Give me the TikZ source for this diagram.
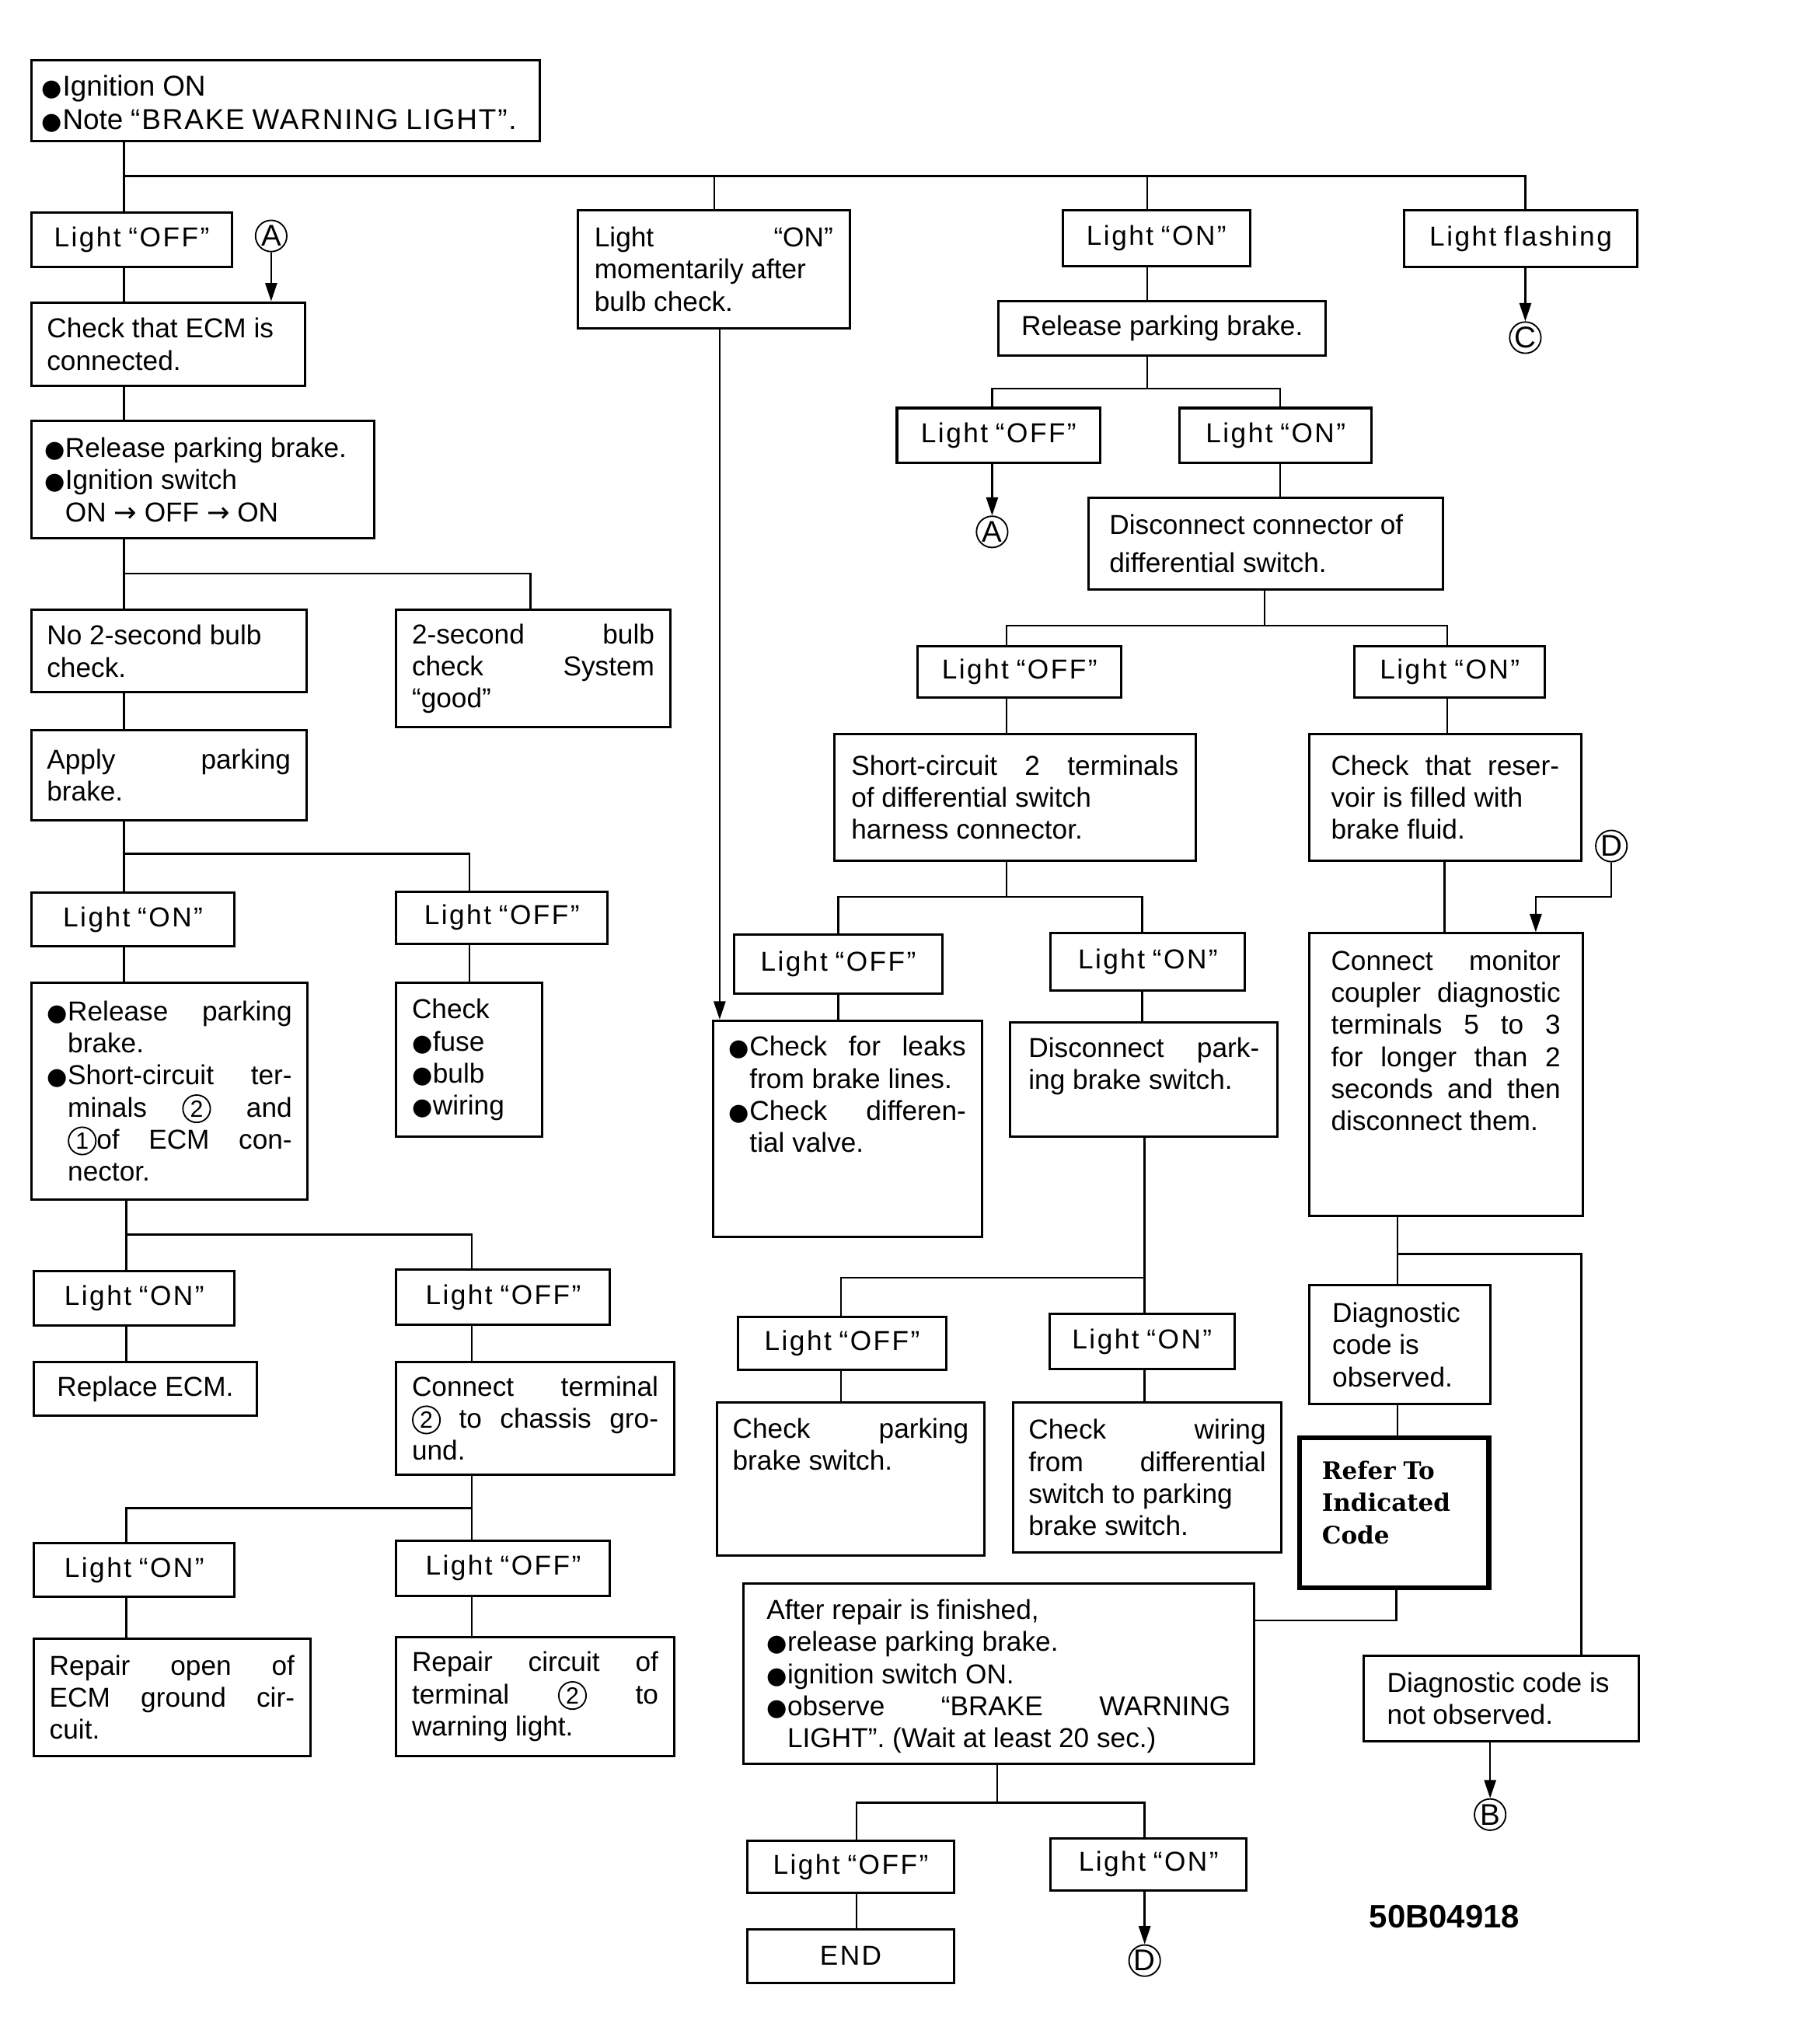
\documentclass[tikz,border=0pt]{standalone}
\usepackage{fontspec}
\setmainfont{Liberation Sans}
\newfontfamily\lsfont{Liberation Sans}[LetterSpace=7]
\newfontfamily\lsfontb{Liberation Sans}[LetterSpace=5]
\newfontfamily\djsfont{DejaVu Sans}
\newfontfamily\refserif{DejaVu Serif}
\usetikzlibrary{arrows.meta}
\newlength\bulw \setlength\bulw{16pt}
\newcommand\bul{\makebox[\bulw][l]{\fontsize{18}{18}\djsfont ●}}
\newcommand\bi{\par\hangindent\bulw\hangafter1\noindent\bul}
\newcommand\cnum[1]{\tikz[baseline=(cn.base)]\node[draw,circle,inner sep=0pt,minimum size=21pt,
  line width=1.1pt,font=\fontsize{18}{18}\selectfont] (cn) {#1};}
\newcommand\boxfont{\fontsize{21}{24.6}\selectfont\spaceskip=0.278em plus 10em minus 0.05em\relax
  \hyphenpenalty=10000\exhyphenpenalty=10000\relax}
\def\padx{12}\def\pady{6}
\newcommand\bx[8][]{%
  \pgfmathsetmacro\bxw{#5-#3}%
  \pgfmathsetmacro\bxh{#6-#4}%
  \pgfmathsetmacro\bxtw{\bxw-2*\padx}%
  \pgfmathsetmacro\bxth{\bxh-2*\pady}%
  \node[box,minimum width=\bxw pt,minimum height=\bxh pt,#1] (#2) at ({(#3+#5)/2},{(#4+#6)/2})
    {\parbox[c][\bxth pt][#7]{\bxtw pt}{#8}};}
\newcommand\lbox[6]{\bx{#1}{#2}{#3}{#4}{#5}{c}{\centering\lsfont #6}}
\begin{document}
\begin{tikzpicture}[x=1pt,y=-1pt,
  box/.style={draw,line width=1.8pt,inner xsep=\padx pt,inner ysep=\pady pt,
    font=\boxfont},
  ln/.style={line width=1.5pt},
  arr/.style={ln,-{Triangle[length=14pt,width=9pt]}},
  circ/.style={draw,circle,line width=1.1pt,inner sep=0pt,minimum size=24pt,
    font=\fontsize{23}{23}\selectfont}]
\fill[white] (0,0) rectangle (1389,1568);
\useasboundingbox (0,0) rectangle (1389,1568);

% ---------- left column ----------
{\def\padx{8}\bx[font=\boxfont\fontsize{22}{26}\selectfont]{top}{24}{46}{414}{108}{c}{\vspace*{5pt}\mbox{\bul Ignition ON}\\\mbox{\bul Note {\lsfontb “BRAKE WARNING LIGHT”.}}}}
\lbox{lOffA}{24}{163}{178}{205}{Light “OFF”}
\node[circ] (cA1) at (208,181) {A};
\bx{ecm}{24}{232}{234}{296}{c}{Check that ECM is\\connected.}
{\def\padx{10}\bx{rel1}{24}{323}{287}{413}{c}{\bul Release parking brake.\\\bul Ignition switch\\\hspace*{\bulw}ON {\djsfont →} OFF {\djsfont →} ON}}
\bx{no2}{24}{468}{235}{531}{c}{No 2-second bulb\\check.}
\bx{good}{304}{468}{514}{558}{c}{2-second bulb\linebreak check System\linebreak “good”}
\bx{apply}{24}{560}{235}{629}{c}{Apply parking\linebreak brake.}
\lbox{lOnD}{24}{685}{180}{726}{Light “ON”}
\lbox{lOffD}{304}{684}{466}{724}{Light “OFF”}
\bx{chk}{304}{754}{416}{872}{c}{Check\\\bul fuse\\\bul bulb\\\bul wiring}
\bx{short1}{24}{754}{236}{920}{c}{\bi Release parking\linebreak brake.\bi Short-circuit ter-\linebreak minals \cnum{2} and\linebreak \cnum{1}of ECM con-\linebreak nector.}
\lbox{lOnF}{26}{975}{180}{1017}{Light “ON”}
\lbox{lOffF}{304}{974}{468}{1016}{Light “OFF”}
\bx{repl}{26}{1045}{197}{1086}{c}{\centering Replace ECM.}
\bx{conn}{304}{1045}{517}{1131}{c}{Connect terminal\linebreak \cnum{2} to chassis gro-\linebreak und.}
\lbox{lOnH}{26}{1184}{180}{1225}{Light “ON”}
\lbox{lOffH}{304}{1182}{468}{1224}{Light “OFF”}
\bx{rep1}{26}{1257}{238}{1347}{c}{Repair open of\linebreak ECM ground cir-\linebreak cuit.}
\bx{rep2}{304}{1256}{517}{1347}{c}{Repair circuit of\linebreak terminal \cnum{2} to\linebreak warning light.}

% ---------- middle / right ----------
{\def\padx{13}\bx{mom}{443}{161}{652}{252}{c}{Light “ON”\linebreak momentarily after\\bulb check.}}
\lbox{lOnA}{815}{161}{959}{204}{Light “ON”}
\lbox{flash}{1077}{161}{1256}{205}{Light flashing}
\node[circ] (cC) at (1170,259) {C};
\bx{relB}{766}{231}{1017}{273}{c}{\centering Release parking brake.}
\lbox{lOffB}{688}{313}{844}{355}{Light “OFF”}
\lbox{lOnB}{905}{313}{1052}{355}{Light “ON”}
\node[circ] (cA2) at (761,408) {A};
{\def\padx{16}\bx{disc}{835}{382}{1107}{452}{c}{Disconnect connector of\\[5pt]differential switch.}}
\lbox{lOffC}{704}{496}{860}{535}{Light “OFF”}
\lbox{lOnC}{1039}{496}{1185}{535}{Light “ON”}
{\def\padx{13}\bx{sc}{640}{563}{917}{660}{c}{Short-circuit 2 terminals\linebreak of differential switch\\harness connector.}}
{\def\padx{17}\bx{res}{1004}{563}{1213}{660}{c}{Check that reser-\linebreak voir is filled with\\brake fluid.}}
\node[circ] (cD1) at (1236,649) {D};
\lbox{lOffE}{563}{717}{723}{762}{Light “OFF”}
\lbox{lOnE}{806}{716}{955}{760}{Light “ON”}
\bx{leaks}{547}{783}{753}{949}{t}{\vspace*{6pt}\bi Check for leaks\linebreak from brake lines.\bi Check differen-\linebreak tial valve.}
{\def\padx{14}\bx{dpark}{775}{784}{980}{872}{t}{\vspace*{6pt}Disconnect park-\linebreak ing brake switch.}}
{\def\padx{17}\bx{mon}{1004}{716}{1214}{933}{t}{\vspace*{7pt}Connect monitor\linebreak coupler diagnostic\linebreak terminals 5 to 3\linebreak for longer than 2\linebreak seconds and then\linebreak disconnect them.}}
\lbox{lOffG}{566}{1010}{726}{1051}{Light “OFF”}
\lbox{lOnG}{805}{1008}{947}{1050}{Light “ON”}
\bx{cpark}{550}{1076}{755}{1193}{t}{\vspace*{6pt}Check parking\linebreak brake switch.}
\bx{wir}{777}{1076}{983}{1191}{c}{Check wiring\linebreak from differential\linebreak switch to parking\\brake switch.}
{\def\padx{18}\bx{diag}{1004}{986}{1143}{1077}{c}{Diagnostic\\code is\\observed.}}
{\def\padx{17}\bx[line width=3.8pt]{refer}{997}{1103}{1142}{1218}{t}{\vspace*{12pt}\fontsize{18.5}{24.5}\refserif\bfseries Refer To\\Indicated\\Code}}
{\def\padx{18}\bx{after}{570}{1215}{962}{1353}{c}{\vspace*{4pt}After repair is finished,\bi release parking brake.\bi ignition switch ON.\bi observe “BRAKE WARNING\linebreak LIGHT”. (Wait at least 20 sec.)}}
{\def\padx{18}\bx{ndiag}{1046}{1270}{1257}{1336}{c}{Diagnostic code is\\not observed.}}
\node[circ] (cB) at (1143,1392) {B};
\lbox{lOffI}{573}{1412}{732}{1452}{Light “OFF”}
\lbox{lOnI}{806}{1410}{956}{1450}{Light “ON”}
\lbox{end}{573}{1480}{732}{1521}{END}
\node[circ] (cD2) at (878,1504) {D};
\node[font=\bfseries\fontsize{25}{25}\selectfont] (code) at (1108,1470) {50B04918};

% ---------- connectors ----------
\coordinate (b1a) at (95,135); \coordinate (b1b) at (548,135);
\coordinate (b1c) at (880,135); \coordinate (b1d) at (1170,135);
\draw[ln] (top.south -| b1a) -- (lOffA.north -| b1a);
\draw[ln] (b1a) -- (b1d) -- (flash.north -| b1d);
\draw[ln] (b1b) -- (mom.north -| b1b);
\draw[ln] (b1c) -- (lOnA.north -| b1c);
\draw[ln] (lOffA.south -| b1a) -- (ecm.north -| b1a);
\draw[arr] (cA1.south) -- (cA1 |- ecm.north);
\draw[ln] (ecm.south -| b1a) -- (rel1.north -| b1a);
\coordinate (b3a) at (95,440); \coordinate (b3b) at (407,440);
\draw[ln] (rel1.south -| b3a) -- (no2.north -| b3a);
\draw[ln] (b3a) -- (b3b) -- (good.north -| b3b);
\draw[ln] (no2.south -| b3a) -- (apply.north -| b3a);
\coordinate (b5a) at (95,655); \coordinate (b5b) at (360,655);
\draw[ln] (apply.south -| b5a) -- (lOnD.north -| b5a);
\draw[ln] (b5a) -- (b5b) -- (lOffD.north -| b5b);
\draw[ln] (lOnD.south -| b5a) -- (short1.north -| b5a);
\draw[ln] (lOffD.south -| b5b) -- (chk.north -| b5b);
\coordinate (b7a) at (97,947); \coordinate (b7b) at (362,947);
\draw[ln] (short1.south -| b7a) -- (lOnF.north -| b7a);
\draw[ln] (b7a) -- (b7b) -- (lOffF.north -| b7b);
\draw[ln] (lOnF.south -| b7a) -- (repl.north -| b7a);
\draw[ln] (lOffF.south -| b7b) -- (conn.north -| b7b);
\coordinate (b9a) at (97,1157); \coordinate (b9b) at (362,1157);
\draw[ln] (conn.south -| b9b) -- (lOffH.north -| b9b);
\draw[ln] (b9b) -- (b9a) -- (lOnH.north -| b9a);
\draw[ln] (lOnH.south -| b9a) -- (rep1.north -| b9a);
\draw[ln] (lOffH.south -| b9b) -- (rep2.north -| b9b);
% middle
\coordinate (xm) at (552,0);
\draw[arr] (mom.south -| xm) -- (leaks.north -| xm);
\draw[ln] (lOnA.south -| b1c) -- (relB.north -| b1c);
\draw[arr] (flash.south -| cC) -- (cC.north);
\coordinate (b11) at (880,298); \coordinate (b11a) at (761,298); \coordinate (b11b) at (982,298);
\draw[ln] (relB.south -| b11) -- (b11);
\draw[ln] (lOffB.north -| b11a) -- (b11a) -- (b11b) -- (lOnB.north -| b11b);
\draw[arr] (lOffB.south -| cA2) -- (cA2.north);
\draw[ln] (lOnB.south -| b11b) -- (disc.north -| b11b);
\coordinate (b12) at (970,480); \coordinate (b12a) at (772,480); \coordinate (b12b) at (1110,480);
\draw[ln] (disc.south -| b12) -- (b12);
\draw[ln] (lOffC.north -| b12a) -- (b12a) -- (b12b) -- (lOnC.north -| b12b);
\draw[ln] (lOffC.south -| b12a) -- (sc.north -| b12a);
\draw[ln] (lOnC.south -| b12b) -- (res.north -| b12b);
\coordinate (b13) at (772,688); \coordinate (b13a) at (643,688); \coordinate (b13b) at (876,688);
\draw[ln] (sc.south -| b13) -- (b13);
\draw[ln] (lOffE.north -| b13a) -- (b13a) -- (b13b) -- (lOnE.north -| b13b);
\draw[ln] (lOffE.south -| b13a) -- (leaks.north -| b13a);
\draw[ln] (lOnE.south -| b13b) -- (dpark.north -| b13b);
\coordinate (b15) at (878,980); \coordinate (b15a) at (645,980);
\draw[ln] (dpark.south -| b15) -- (lOnG.north -| b15);
\draw[ln] (b15) -- (b15a) -- (lOffG.north -| b15a);
\draw[ln] (lOffG.south -| b15a) -- (cpark.north -| b15a);
\draw[ln] (lOnG.south -| b15) -- (wir.north -| b15);
\coordinate (xr) at (1108,0);
\draw[ln] (res.south -| xr) -- (mon.north -| xr);
\coordinate (dk) at (1178,688);
\draw[arr] (cD1.south) |- (dk) -- (dk |- mon.north);
\coordinate (bm) at (1072,962); \coordinate (bm2) at (1213,962);
\draw[ln] (mon.south -| bm) -- (diag.north -| bm);
\draw[ln] (bm) -- (bm2) -- (ndiag.north -| bm2);
\draw[ln] (diag.south -| bm) -- (refer.north -| bm);
\coordinate (ja) at (1071,1243);
\draw[ln] (refer.south -| ja) -- (ja) -- (after.east |- ja);
\draw[arr] (ndiag.south -| cB) -- (cB.north);
\coordinate (ba) at (765,1383); \coordinate (ba1) at (657,1383); \coordinate (ba2) at (878,1383);
\draw[ln] (after.south -| ba) -- (ba);
\draw[ln] (lOffI.north -| ba1) -- (ba1) -- (ba2) -- (lOnI.north -| ba2);
\draw[ln] (lOffI.south -| ba1) -- (end.north -| ba1);
\draw[arr] (lOnI.south -| cD2) -- (cD2.north);
\end{tikzpicture}
\end{document}
